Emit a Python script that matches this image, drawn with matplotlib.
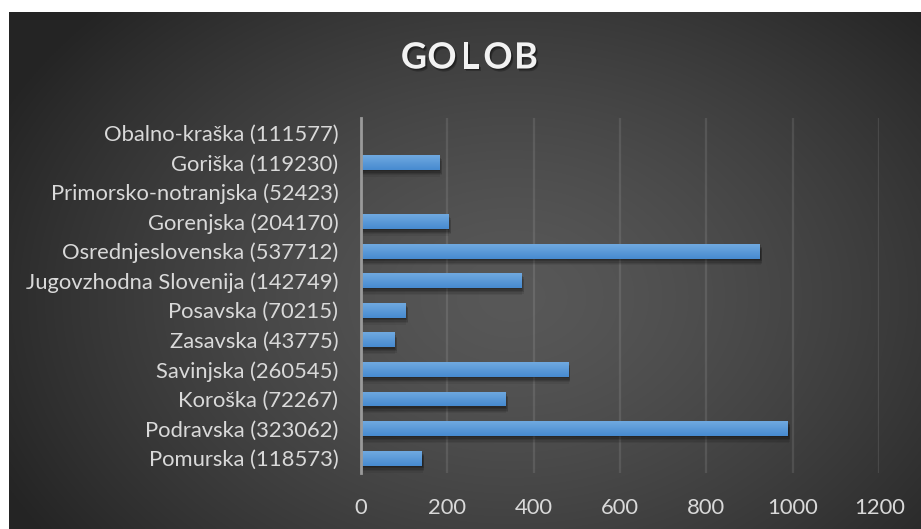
import numpy as np
import matplotlib
matplotlib.use("Agg")
import matplotlib.pyplot as plt
import matplotlib.patheffects as pe

categories = [
    "Pomurska (118573)",
    "Podravska (323062)",
    "Koroška (72267)",
    "Savinjska (260545)",
    "Zasavska (43775)",
    "Posavska (70215)",
    "Jugovzhodna Slovenija (142749)",
    "Osrednjeslovenska (537712)",
    "Gorenjska (204170)",
    "Primorsko-notranjska (52423)",
    "Goriška (119230)",
    "Obalno-kraška (111577)",
]
values = [141, 988, 334, 479, 77, 102, 371, 923, 202, 0, 181, 0]
xticks = [0, 200, 400, 600, 800, 1000, 1200]
title = "GOLOB"

W, H = 921, 529
fig = plt.figure(figsize=(W / 100, H / 100), dpi=100)
fig.patch.set_facecolor("white")

# background radial gradient (chart area)
bx0 = 9 / W
bax = fig.add_axes([bx0, 0, 1 - bx0, 1 - 12 / H])
bax.set_axis_off()
ny, nx = 300, 500
yy, xx = np.mgrid[0:ny, 0:nx]
cx, cy = 0.55 * nx, 0.55 * ny
r = np.sqrt(((xx - cx) / (0.62 * nx)) ** 2 + ((yy - cy) / (0.8 * ny)) ** 2)
r = np.clip(r, 0, 1)
light, dark = 0.345, 0.145
g = light - (light - dark) * r ** 1.4
img = np.dstack([g, g, g])
bax.imshow(img, aspect="auto", extent=[0, 1, 0, 1], interpolation="bilinear")
bax.set_xlim(0, 1)
bax.set_ylim(0, 1)

# soft shadow emulation
shadow_fx = []
for dx, dy, a in [(1, -5, 0.07), (2, -4, 0.09), (2, -3, 0.12), (1.5, -2, 0.15), (1, -1, 0.15)]:
    shadow_fx.append(pe.SimplePatchShadow(offset=(dx, dy), shadow_rgbFace="black", alpha=a))
shadow_fx.append(pe.Normal())

# main axes
ax = fig.add_axes([360.7 / W, 1 - 473 / H, (879.3 - 360.7) / W, (473 - 118) / H])
ax.patch.set_alpha(0)
y = np.arange(len(categories))
bars = ax.barh(y, values, height=0.5, color="#5b9bd5", zorder=3, path_effects=shadow_fx)
# vertical gradient on bars
grad = np.linspace(0, 1, 50).reshape(-1, 1)
top = np.array([0x70, 0xa9, 0xe0]) / 255
bot = np.array([0x47, 0x8b, 0xd0]) / 255
gimg = (top[None, None, :] * (1 - grad[:, :, None]) + bot[None, None, :] * grad[:, :, None])
for b in bars:
    if b.get_width() <= 0:
        continue
    x0, y0 = b.get_x(), b.get_y()
    im = ax.imshow(gimg, aspect="auto", extent=[x0, x0 + b.get_width(), y0, y0 + b.get_height()],
                   origin="upper", zorder=4, interpolation="bilinear")
    im.set_clip_path(b)

ax.set_xlim(0, 1200)
ax.set_ylim(-0.5, len(categories) - 0.5)
ax.set_xticks(xticks)
ax.set_xticklabels([str(t) for t in xticks])
ax.set_yticks(y)
ax.set_yticklabels(categories)
ax.xaxis.grid(True, color="white", alpha=0.10, linewidth=1.6, zorder=0)
ax.set_axisbelow(True)
for s in ["top", "right", "bottom"]:
    ax.spines[s].set_visible(False)
ax.spines["left"].set_color("#9a9a9a")
ax.spines["left"].set_linewidth(2)
ax.spines["left"].set_zorder(5)
ax.tick_params(axis="both", length=0, colors="#d9d9d9", labelsize=15.8)
ax.tick_params(axis="y", pad=16)
ax.tick_params(axis="x", pad=18)
for lab in ax.get_xticklabels() + ax.get_yticklabels():
    lab.set_fontfamily("Lato")
    lab.set_color("#d9d9d9")

# title with letter spacing
spacing = 28
letters = list(title)
n = len(letters)
for i, ch in enumerate(letters):
    xpos = (470 + (i - (n - 1) / 2) * spacing) / W
    fig.text(xpos, 1 - 58 / H, ch, ha="center", va="center", fontsize=26, fontweight="bold",
             family="Lato", color="#f2f2f2",
             path_effects=[pe.SimplePatchShadow(offset=(1.5, -2), shadow_rgbFace="black", alpha=0.25),
                           pe.SimplePatchShadow(offset=(1, -1), shadow_rgbFace="black", alpha=0.3),
                           pe.Normal()])

fig.savefig("out.png", dpi=100, facecolor=fig.get_facecolor())
